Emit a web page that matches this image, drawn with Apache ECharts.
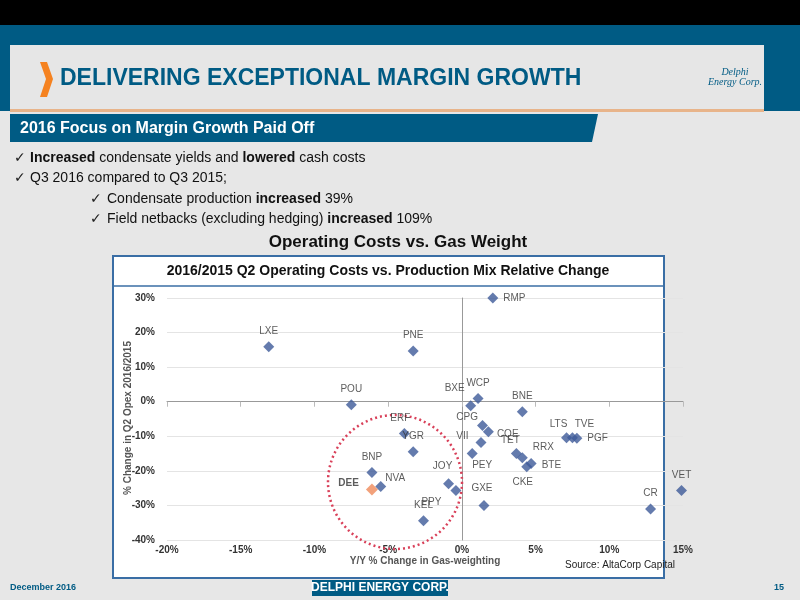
<!DOCTYPE html>
<html><head><meta charset="utf-8">
<script src="https://cdn.jsdelivr.net/npm/echarts@6/dist/echarts.min.js"></script>
<style>html,body{margin:0;padding:0;background:#e7e7e7}#main{width:800px;height:600px}</style>
</head><body><div id="main"></div>
<script>
const names = ['LXE','PNE','RMP','POU','BXE','WCP','BNE','CPG','CQE','VII','PEY','TET','RRX','BTE','CKE','LTS','TVE','PGF','GXE','CR','VET','ERF','YGR','BNP','NVA','JOY','PPY','KEL'];
const gasChange = [-13.1,-3.3,2.1,-7.5,0.6,1.1,4.1,1.4,1.8,1.3,0.7,3.7,4.1,4.7,4.4,7.1,7.5,7.8,1.5,12.8,14.9,-3.9,-3.3,-6.1,-5.5,-0.9,-0.4,-2.6];
const opexChange = [15.9,14.7,30,-0.9,-1.2,0.9,-2.9,-6.9,-8.7,-11.8,-15,-15,-16.2,-17.9,-18.8,-10.4,-10.4,-10.6,-30,-31,-25.7,-9.2,-14.5,-20.5,-24.5,-23.7,-25.7,-34.4];
const deeName = 'DEE', deePoint = [-6.1, -25.4];

// label placement (style only)
const labelPos = {
  RMP:['right',[0,0]], BXE:['top',[-16,-2]], CPG:['left',[6,-8]], CQE:['right',[-2,2]],
  VII:['left',[-2,-6]], PEY:['bottom',[10,-4]], TET:['top',[-6,2]], RRX:['right',[0,-10]],
  BTE:['right',[0,2]], CKE:['bottom',[-4,0]], LTS:['top',[-8,2]], TVE:['top',[12,2]],
  PGF:['right',[0,0]], GXE:['top',[-2,-2]], ERF:['top',[-4,0]], NVA:['right',[-6,-8]],
  JOY:['top',[-6,-2]], PPY:['left',[-4,12]]
};
const blue = '#005b84';
const chart = echarts.init(document.getElementById('main'));
const pts = names.map((n,i) => {
  const lp = labelPos[n] || ['top',[0,0]];
  return {name:n, value:[gasChange[i], opexChange[i]], label:{position:lp[0], offset:lp[1]}};
});
chart.setOption({
  backgroundColor:'#e7e7e7',
  textStyle:{fontFamily:'Liberation Sans, Arial'},
  grid:{left:167,right:117,top:298,bottom:60},
  xAxis:{type:'value',min:-20,max:15,interval:5,
    axisLine:{onZero:true,lineStyle:{color:'#999'}},axisTick:{show:true,lineStyle:{color:'#bbb'}},
    splitLine:{show:false},
    axisLabel:{formatter:v=>v+'%',color:'#333',fontWeight:'bold',fontSize:10,margin:5},
    name:'Y/Y % Change in Gas-weighting',nameLocation:'middle',nameGap:12,nameTextStyle:{color:'#555',fontSize:10,fontWeight:'bold'}},
  yAxis:{type:'value',min:-40,max:30,interval:10,
    axisLine:{onZero:true,lineStyle:{color:'#999'}},axisTick:{show:false},
    splitLine:{show:true,lineStyle:{color:'#e4e4e4'}},
    axisLabel:{formatter:v=>v+'%',color:'#333',fontWeight:'bold',fontSize:10,margin:12}},
  series:[
    {type:'scatter',symbol:'diamond',symbolSize:11,itemStyle:{color:'#3d5a99'},
     label:{show:true,formatter:'{b}',color:'#333',fontSize:10,distance:5},data:pts,z:3},
    {type:'scatter',symbol:'diamond',symbolSize:12,itemStyle:{color:'#ef8a5a'},
     label:{show:true,formatter:'{b}',position:'left',color:'#333',fontWeight:'bold',fontSize:10,offset:[-2,-6]},
     data:[{name:deeName,value:deePoint}],z:4}
  ],
  graphic:[
    {type:'rect',shape:{x:0,y:0,width:800,height:25},style:{fill:'#000'},z:-10},
    {type:'rect',shape:{x:0,y:25,width:800,height:86},style:{fill:blue},z:-10},
    {type:'rect',shape:{x:10,y:45,width:754,height:66},style:{fill:'#e6e6e6'},z:-9},
    {type:'rect',shape:{x:10,y:109,width:754,height:3},style:{fill:'#e8b48a'},z:-8},
    {type:'polygon',shape:{points:[[40,62],[47,62],[53,79],[47,97],[40,97],[46,79]]},style:{fill:'#f58220'}},
    {type:'text',x:60,y:79,style:{text:'DELIVERING EXCEPTIONAL MARGIN GROWTH',fill:blue,font:'bold 23px "Liberation Sans"',verticalAlign:'middle'}},
    {type:'text',x:735,y:77,style:{text:'Delphi\nEnergy Corp.',fill:blue,font:'italic 10px serif',align:'center',verticalAlign:'middle'}},
    {type:'polygon',shape:{points:[[10,114],[598,114],[592,142],[10,142]]},style:{fill:blue}},
    {type:'text',x:20,y:129,style:{text:'2016 Focus on Margin Growth Paid Off',fill:'#fff',font:'bold 16px "Liberation Sans"',verticalAlign:'middle'}},
    {type:'text',x:14,y:158,style:{text:'✓',fill:'#222',font:'14px "DejaVu Sans"',verticalAlign:'middle'}},
    {type:'text',x:30,y:158,style:{text:'{b|Increased} condensate yields and {b|lowered} cash costs',fill:'#111',font:'14px "Liberation Sans"',verticalAlign:'middle',rich:{b:{fontWeight:'bold',fontSize:14}}}},
    {type:'text',x:14,y:178,style:{text:'✓',fill:'#222',font:'14px "DejaVu Sans"',verticalAlign:'middle'}},
    {type:'text',x:30,y:178,style:{text:'Q3 2016 compared to Q3 2015;',fill:'#111',font:'14px "Liberation Sans"',verticalAlign:'middle'}},
    {type:'text',x:90,y:199,style:{text:'✓',fill:'#222',font:'14px "DejaVu Sans"',verticalAlign:'middle'}},
    {type:'text',x:107,y:199,style:{text:'Condensate production {b|increased} 39%',fill:'#111',font:'14px "Liberation Sans"',verticalAlign:'middle',rich:{b:{fontWeight:'bold',fontSize:14}}}},
    {type:'text',x:90,y:219,style:{text:'✓',fill:'#222',font:'14px "DejaVu Sans"',verticalAlign:'middle'}},
    {type:'text',x:107,y:219,style:{text:'Field netbacks (excluding hedging) {b|increased} 109%',fill:'#111',font:'14px "Liberation Sans"',verticalAlign:'middle',rich:{b:{fontWeight:'bold',fontSize:14}}}},
    {type:'text',x:398,y:242,style:{text:'Operating Costs vs. Gas Weight',fill:'#111',font:'bold 17px "Liberation Sans"',align:'center',verticalAlign:'middle'}},
    {type:'rect',shape:{x:113,y:256,width:551,height:322},style:{fill:'#fff',stroke:'#3a6ea5',lineWidth:2},z:-5},
    {type:'text',x:388,y:271,style:{text:'2016/2015 Q2 Operating Costs vs. Production Mix Relative Change',fill:'#111',font:'bold 14px "Liberation Sans"',align:'center',verticalAlign:'middle'}},
    {type:'line',shape:{x1:114,y1:286,x2:663,y2:286},style:{stroke:'#3a6ea5',lineWidth:1.5}},
    {type:'text',x:128,y:418,rotation:Math.PI/2,style:{text:'% Change in Q2 Opex 2016/2015',fill:'#555',font:'bold 10px "Liberation Sans"',align:'center',verticalAlign:'middle'}},
    {type:'circle',shape:{cx:395,cy:482,r:67},style:{fill:'none',stroke:'#d9415a',lineWidth:2.5,lineDash:[2,3]},z:2},
    {type:'text',x:620,y:565,style:{text:'Source: AltaCorp Capital',fill:'#222',font:'10px "Liberation Sans"',align:'center',verticalAlign:'middle'}},
    {type:'text',x:10,y:588,style:{text:'December 2016',fill:blue,font:'bold 9px "Liberation Sans"',verticalAlign:'middle'}},
    {type:'rect',shape:{x:312,y:580,width:136,height:16},style:{fill:blue}},
    {type:'text',x:380,y:588,style:{text:'DELPHI ENERGY CORP.',fill:'#fff',font:'bold 12px "Liberation Sans"',align:'center',verticalAlign:'middle'}},
    {type:'text',x:784,y:588,style:{text:'15',fill:blue,font:'bold 9px "Liberation Sans"',align:'right',verticalAlign:'middle'}}
  ]
});
</script></body></html>
